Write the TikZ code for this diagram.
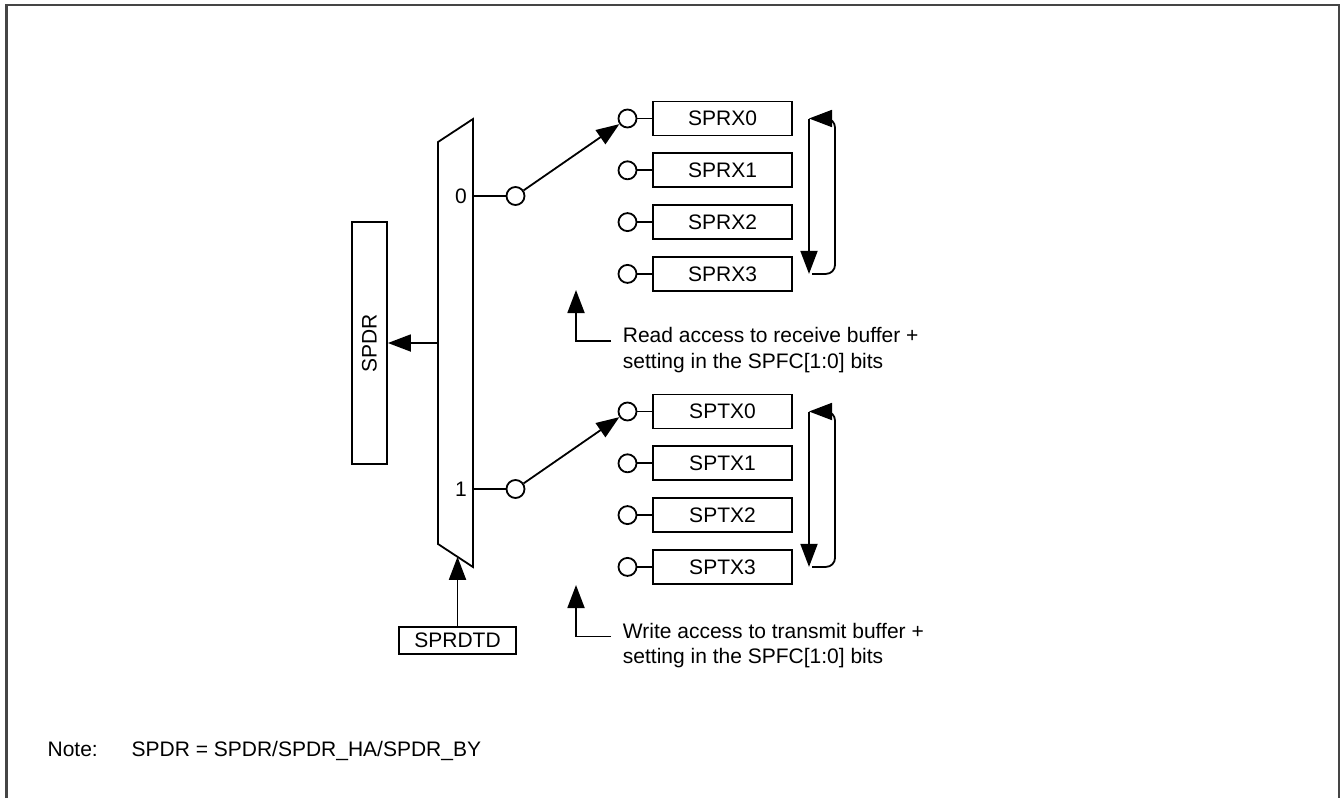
\documentclass[tikz,border=0pt]{standalone}
\usepackage{fontspec}
\setmainfont{Liberation Sans}
\usetikzlibrary{arrows.meta}
\definecolor{framegray}{HTML}{454545}
\begin{document}
\begin{tikzpicture}[x=1pt,y=-1pt,
  line width=1.8pt,
  txt/.style={font=\fontsize{21}{25}\selectfont, inner sep=0pt},
  reg/.style={draw, minimum width=139pt, minimum height=34pt, inner sep=0pt, font=\fontsize{21}{25}\selectfont},
  port/.style={draw, circle, minimum size=18pt, inner sep=0pt, fill=white},
  arr/.style={-{Triangle[length=23pt,width=17pt]}},
]
\useasboundingbox (0,0) rectangle (1343,798);
% frame
\draw[framegray, line width=2.5pt] (6.5,798) -- (6.5,5) -- (1339,5) -- (1339,798);

% multiplexer
\coordinate (mtl) at (438,142);
\coordinate (mtr) at (473,119);
\coordinate (mbr) at (473,567);
\coordinate (mbl) at (438,544);
\draw (mtl) -- (mtr) -- (mbr) -- (mbl) -- cycle;
\coordinate (mo0) at (473,196);
\coordinate (mo1) at (473,489);
\coordinate (mleft) at (438,343);
\coordinate (mbot) at (457.5,556.8);
\node[txt] (l0) at (461,196) {0};
\node[txt] (l1) at (461,489) {1};

% SPDR
\node[draw, minimum width=35pt, minimum height=242pt, inner sep=0pt] (spdr) at (369.5,343) {};
\node[txt, rotate=90] (spdrt) at (spdr.center) {SPDR};
\draw[arr] (mleft) -- (spdr.east);

% SPRDTD
\node[draw, minimum width=117pt, minimum height=27pt, inner sep=0pt, font=\fontsize{21}{25}\selectfont] (sprdtd) at (457.5,640.5) {SPRDTD};
\draw[arr] (sprdtd.north) -- (mbot);

% mux output ports
\node[port] (p0) at (515.5,196) {};
\node[port] (p1) at (515.5,489) {};
\draw (mo0) -- (p0.west);
\draw (mo1) -- (p1.west);

% receive buffers
\foreach \i/\y in {0/118.5,1/170.3,2/222.1,3/273.9}{
  \node[reg] (rx\i) at (722.5,\y) {SPRX\i};
  \node[port] (rc\i) at (627.5,\y) {};
  \draw (rc\i.east) -- (rx\i.west);
}
% transmit buffers
\foreach \i/\y in {0/411.5,1/463.3,2/515.1,3/566.9}{
  \node[reg] (tx\i) at (722.5,\y) {SPTX\i};
  \node[port] (tc\i) at (627.5,\y) {};
  \draw (tc\i.east) -- (tx\i.west);
}

\draw[arr] (p0) -- (rc0);
\draw[arr] (p1) -- (tc0);

% rotation loops
\coordinate (rlt) at (809,118.5);
\coordinate (rlb) at (809,273.9);
\coordinate (rls) at (812,273.9);
\draw[arr] (rlt) -- (rlb);
\draw[arr, rounded corners=9pt] (rls) -- (835,273.9) -- (835,118.5) -- (rlt);

\coordinate (tlt) at (809,411.5);
\coordinate (tlb) at (809,566.9);
\coordinate (tls) at (812,566.9);
\draw[arr] (tlt) -- (tlb);
\draw[arr, rounded corners=9pt] (tls) -- (835,566.9) -- (835,411.5) -- (tlt);

% read access annotation
\coordinate (ra0) at (611,341);
\coordinate (ra1) at (576,341);
\coordinate (ra2) at (576,290);
\draw[arr] (ra0) -- (ra1) -- (ra2);
\node[txt, anchor=base west] (rd1) at (622,342.7) {Read access to receive buffer +};
\node[txt, anchor=base west] (rd2) at (622,368.2) {setting in the SPFC[1:0] bits};

% write access annotation
\coordinate (wa0) at (611,636.5);
\coordinate (wa1) at (576,636.5);
\coordinate (wa2) at (576,585);
\draw[arr] (wa0) -- (wa1) -- (wa2);
\node[txt, anchor=base west] (wr1) at (622,638.2) {Write access to transmit buffer +};
\node[txt, anchor=base west] (wr2) at (622,663.7) {setting in the SPFC[1:0] bits};

% note
\node[txt, anchor=base west] (note) at (46.7,756.7) {Note:};
\node[txt, anchor=base west] (notet) at (130.7,756.7) {SPDR = SPDR/SPDR\_HA/SPDR\_BY};
\end{tikzpicture}
\end{document}
